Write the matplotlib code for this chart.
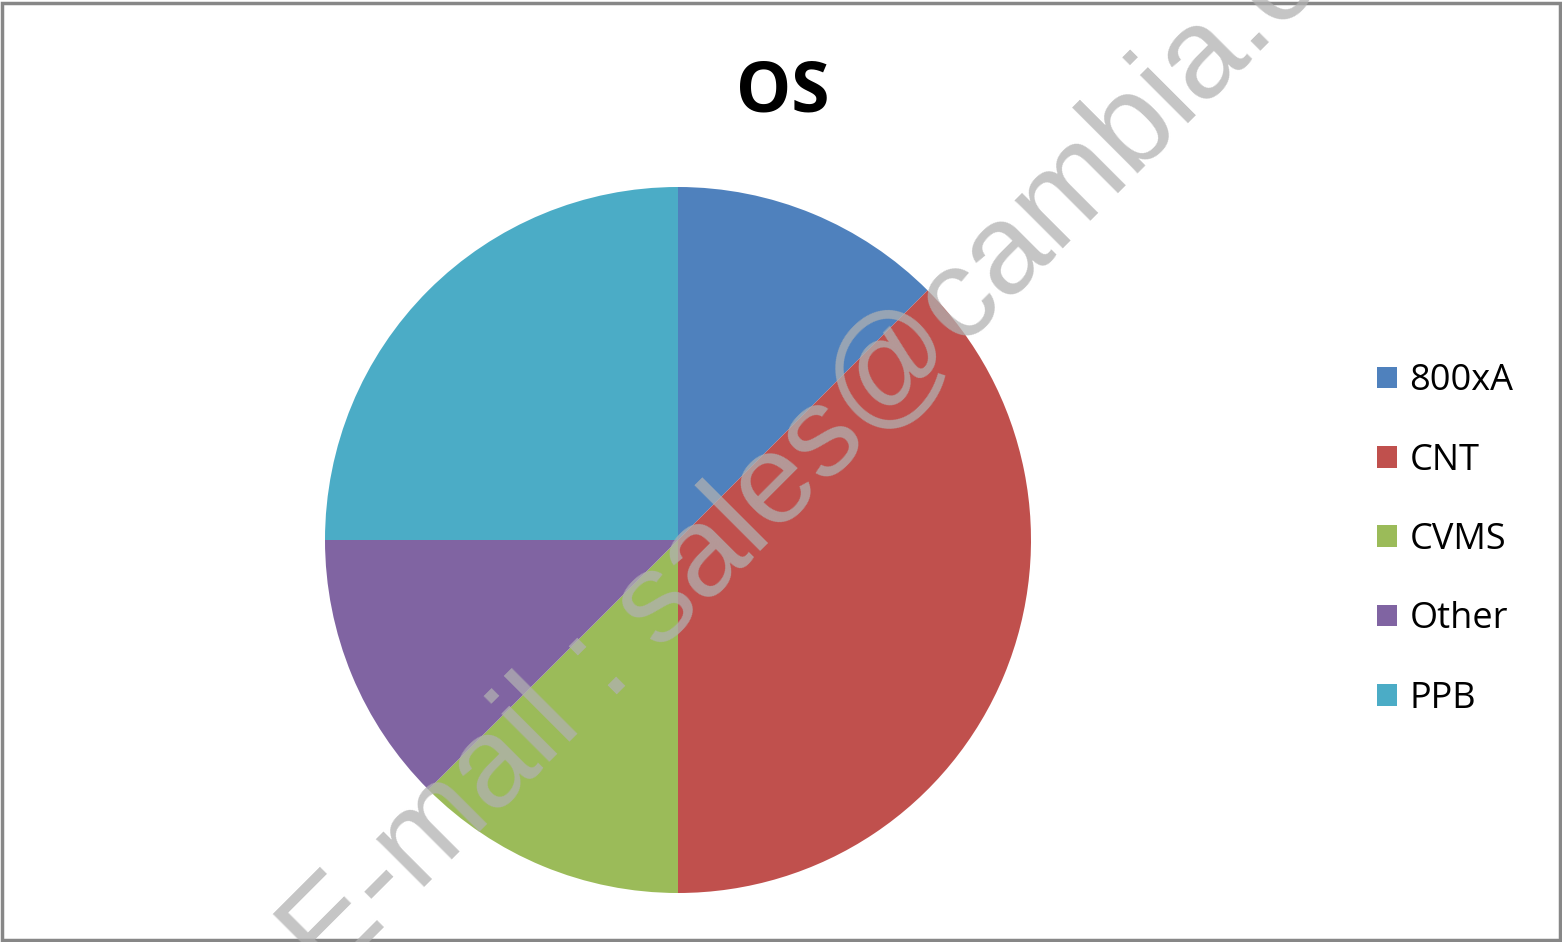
import matplotlib
matplotlib.use("Agg")
import matplotlib.pyplot as plt
from matplotlib.patches import Rectangle

# data
labels = ["800xA", "CNT", "CVMS", "Other", "PPB"]
values = [1, 3, 1, 1, 2]
colors = ["#4F81BD", "#C0504D", "#9BBB59", "#8064A2", "#4BACC6"]
title = "OS"
watermark = "E-mail : sales@cambia.com"

W, H = 1562, 942
fig = plt.figure(figsize=(W / 100, H / 100), dpi=100)
fig.patch.set_facecolor("white")

# pie axes: centre (678, 540) px, radius 353 px
cx, cy, r = 678, 540, 353
ax = fig.add_axes([(cx - r) / W, (H - cy - r) / H, 2 * r / W, 2 * r / H])
wedges, _ = ax.pie(values, colors=colors, startangle=90, counterclock=False,
                   radius=1, wedgeprops=dict(linewidth=0))
ax.set_xlim(-1, 1)
ax.set_ylim(-1, 1)
ax.set_aspect("equal")
ax.axis("off")

fig.text(783 / W, 1 - 93 / H, title, ha="center", va="center",
         fontsize=50, fontweight="bold", family="Open Sans")

leg = fig.legend(wedges, labels, loc="center left",
                 bbox_to_anchor=(1377 / W, 1 - 540 / H),
                 frameon=False, prop={"family": "Open Sans", "size": 26},
                 handlelength=0.55, handleheight=0.55, handletextpad=0.35,
                 labelspacing=1.2, borderpad=0, borderaxespad=0)

# watermark across the chart (cut off by the frame, as in the original)
fig.text(865 / W, 1 - 400 / H, watermark, rotation=45, rotation_mode="anchor",
         ha="center", va="center", fontsize=92, family="Liberation Sans",
         color="#b1b1b1", alpha=0.75, zorder=10)

# grey frame
fig.patches.append(Rectangle((0.0015, 0.002), 0.997, 0.995, transform=fig.transFigure,
                             fill=False, edgecolor="#878787", linewidth=2.5))

fig.savefig("out.png", dpi=100)
